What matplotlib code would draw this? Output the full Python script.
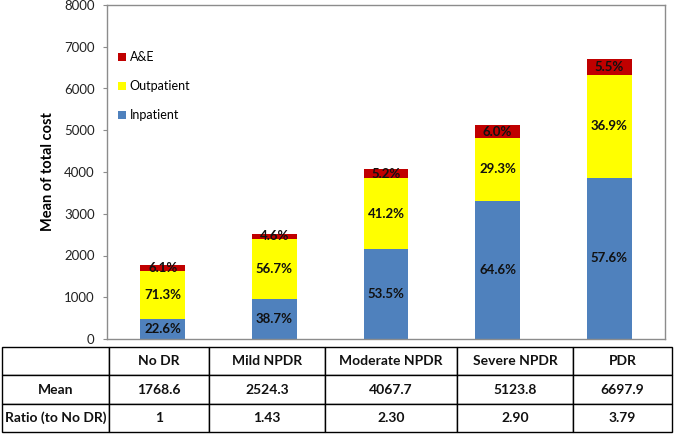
import matplotlib.pyplot as plt
import numpy as np
from matplotlib.patches import Patch

plt.rcParams["font.family"] = ["Lato", "DejaVu Sans"]

groups = ["No DR", "Mild NPDR", "Moderate NPDR", "Severe NPDR", "PDR"]

# segment costs
inpatient = [479, 958, 2160, 3310, 3858]
outpatient = [1157, 1444, 1690, 1506, 2471]
ae = [133, 122, 218, 308, 369]

inpatient_pct = ["22.6%", "38.7%", "53.5%", "64.6%", "57.6%"]
outpatient_pct = ["71.3%", "56.7%", "41.2%", "29.3%", "36.9%"]
ae_pct = ["6.1%", "4.6%", "5.2%", "6.0%", "5.5%"]

mean_cost = ["1768.6", "2524.3", "4067.7", "5123.8", "6697.9"]
ratio = ["1", "1.43", "2.30", "2.90", "3.79"]

blue = "#4F81BD"
yellow = "#FFFF00"
red = "#C00000"
frame = "#8C8C8C"
label_color = "#111111"

fig = plt.figure(figsize=(6.75, 4.34), dpi=100)

ax = fig.add_axes([107 / 675, 95 / 434, 558 / 675, 334 / 434])

x = np.arange(len(groups))
width = 0.4
inp = np.array(inpatient)
outp = np.array(outpatient)
aep = np.array(ae)

ax.bar(x, inp, width, color=blue, zorder=2)
ax.bar(x, outp, width, bottom=inp, color=yellow, zorder=2)
ax.bar(x, aep, width, bottom=inp + outp, color=red, zorder=2)

for i in range(len(groups)):
    ax.text(x[i], inp[i] / 2, inpatient_pct[i], ha="center", va="center",
            fontsize=9.5, fontweight="bold", color=label_color, zorder=3)
    ax.text(x[i], inp[i] + outp[i] / 2, outpatient_pct[i], ha="center",
            va="center", fontsize=9.5, fontweight="bold", color=label_color,
            zorder=3)
    ax.text(x[i], inp[i] + outp[i] + aep[i] / 2, ae_pct[i], ha="center",
            va="center", fontsize=9.5, fontweight="bold", color=label_color,
            zorder=3)

ax.set_xlim(-0.5, len(groups) - 0.5)
ax.set_ylim(0, 8000)
ax.set_yticks(np.arange(0, 8001, 1000))
ax.set_xticks([])
ax.tick_params(axis="y", labelsize=9.5, length=3, color=frame, pad=6,
               labelcolor="#222222")
for side in ["left", "right", "top", "bottom"]:
    ax.spines[side].set_color(frame)
    ax.spines[side].set_linewidth(1)

ax.set_ylabel("Mean of total cost", fontsize=10.5, fontweight="bold")
ax.yaxis.set_label_coords(-0.093, 0.5)

handles = [
    Patch(facecolor=red, label="A&E"),
    Patch(facecolor=yellow, label="Outpatient"),
    Patch(facecolor=blue, label="Inpatient"),
]
ax.legend(handles=handles, loc="upper left", bbox_to_anchor=(0.0, 0.895),
          frameon=False, fontsize=9, handlelength=0.6, handleheight=0.6,
          handletextpad=0.3, labelspacing=1.35)

# table under the chart
tab = fig.add_axes([2 / 675, 2 / 434, 670 / 675, 85 / 434])
tab.axis("off")
cells = [[""] + groups, ["Mean"] + mean_cost, ["Ratio (to No DR)"] + ratio]
col_px = [107, 100, 116, 132, 116, 99]
col_w = [w / sum(col_px) for w in col_px]
table = tab.table(cellText=cells, colWidths=col_w, bbox=[0, 0, 1, 1],
                  cellLoc="center")
table.auto_set_font_size(False)
for (r, c), cell in table.get_celld().items():
    cell.set_edgecolor("#000000")
    cell.set_linewidth(1)
    cell.get_text().set_fontsize(10)
    cell.get_text().set_fontweight("bold")
    cell.get_text().set_color(label_color)

fig.savefig("out.png", dpi=100)
plt.close(fig)
